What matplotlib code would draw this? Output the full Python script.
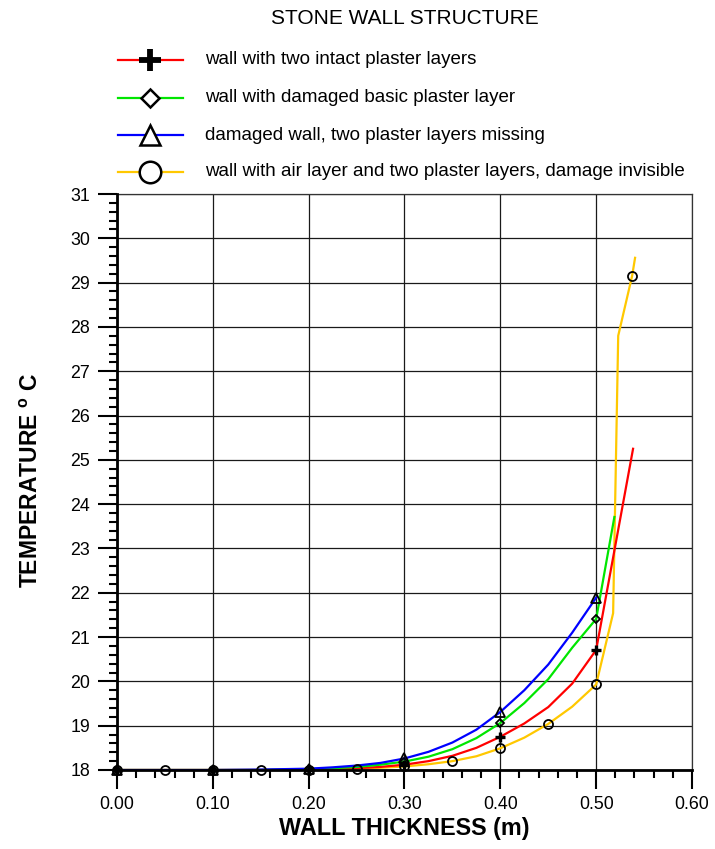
import numpy as np
import matplotlib
matplotlib.use("Agg")
import matplotlib.pyplot as plt
from matplotlib.lines import Line2D
from matplotlib.ticker import MultipleLocator, FormatStrFormatter

plt.rcParams['font.family'] = ['Liberation Sans', 'DejaVu Sans']
plt.rcParams['mathtext.fontset'] = 'custom'
plt.rcParams['mathtext.rm'] = 'Liberation Sans'
plt.rcParams['mathtext.bf'] = 'Liberation Sans:bold'

# ---------------- data ----------------
title = "STONE WALL STRUCTURE"
labels = ["wall with two intact plaster layers",
          "wall with damaged basic plaster layer",
          "damaged wall, two plaster layers missing",
          "wall with air layer and two plaster layers, damage invisible"]

x_red = [0, 0.05, 0.1, 0.15, 0.2, 0.225, 0.25, 0.275, 0.3, 0.325, 0.35, 0.375,
         0.4, 0.425, 0.45, 0.475, 0.5, 0.5385]
t_red = [18.0, 18.0, 18.0, 18.0, 18.01, 18.02, 18.04, 18.07, 18.12, 18.20, 18.32, 18.50,
         18.75, 19.05, 19.42, 19.95, 20.71, 25.25]

x_green = [0, 0.05, 0.1, 0.15, 0.2, 0.225, 0.25, 0.275, 0.3, 0.325, 0.35, 0.375,
           0.4, 0.425, 0.45, 0.475, 0.5, 0.519]
t_green = [18.0, 18.0, 18.0, 18.0, 18.02, 18.04, 18.07, 18.12, 18.19, 18.30, 18.47, 18.72,
           19.06, 19.51, 20.05, 20.76, 21.41, 23.71]

x_blue = [0, 0.05, 0.1, 0.15, 0.2, 0.225, 0.25, 0.275, 0.3, 0.325, 0.35, 0.375,
          0.4, 0.425, 0.45, 0.475, 0.5]
t_blue = [18.0, 18.0, 18.0, 18.01, 18.03, 18.06, 18.10, 18.16, 18.26, 18.41, 18.62, 18.91,
          19.31, 19.80, 20.38, 21.10, 21.89]

x_yellow = [0, 0.05, 0.1, 0.15, 0.2, 0.225, 0.25, 0.275, 0.3, 0.325, 0.35, 0.375, 0.4, 0.425,
            0.45, 0.475, 0.5, 0.5177, 0.523, 0.5375, 0.5406]
t_yellow = [18.0, 18.0, 18.0, 18.0, 18.01, 18.015, 18.03, 18.05, 18.08, 18.13, 18.20, 18.31,
            18.49, 18.73, 19.04, 19.43, 19.93, 21.54, 27.8, 29.15, 29.56]

mark_x_main = [0, 0.1, 0.2, 0.3, 0.4, 0.5]
mark_x_yellow = [0, 0.05, 0.1, 0.15, 0.2, 0.25, 0.3, 0.35, 0.4, 0.45, 0.5, 0.5375]

x_ticks = [0.0, 0.1, 0.2, 0.3, 0.4, 0.5, 0.6]
y_ticks = list(range(18, 32))

# ---------------- figure ----------------
W, H = 715, 849
fig = plt.figure(figsize=(W / 100, H / 100), dpi=100)
ax = fig.add_axes([117 / W, 1 - 770 / H, (692 - 117) / W, (770 - 194) / H])

colors = ['#ff0000', '#00e600', '#0000ff', '#ffc800']
markers = ['+', 'D', '^', 'o']
msizes = [7, 3.6, 6.5, 6.5]
mews = [2.4, 1.3, 1.3, 1.3]

series = [(x_red, t_red, mark_x_main), (x_green, t_green, mark_x_main),
          (x_blue, t_blue, mark_x_main), (x_yellow, t_yellow, mark_x_yellow)]

order = [3, 0, 1, 2]
for k in order:
    xs, ts, mx = series[k]
    ax.plot(xs, ts, color=colors[k], lw=1.6, zorder=3, solid_joinstyle='round')
for k in order:
    xs, ts, mx = series[k]
    idx = [i for i, v in enumerate(xs) if any(abs(v - m) < 1e-9 for m in mx)]
    ax.plot(np.array(xs)[idx], np.array(ts)[idx], ls='none', marker=markers[k],
            ms=msizes[k], mfc='none', mec='black', mew=mews[k], zorder=5, clip_on=False)

ax.set_xlim(0, 0.6)
ax.set_ylim(18, 31)
ax.set_xticks(x_ticks)
ax.set_yticks(y_ticks)
ax.xaxis.set_major_formatter(FormatStrFormatter('%.2f'))
ax.xaxis.set_minor_locator(MultipleLocator(0.02))
ax.yaxis.set_minor_locator(MultipleLocator(0.2))
ax.tick_params(axis='both', which='major', direction='out', length=13.5, width=1.5,
               labelsize=12.8, color='black')
ax.tick_params(axis='both', which='minor', direction='out', length=6, width=1.5,
               color='black')
ax.tick_params(axis='x', which='major', pad=5)
ax.tick_params(axis='y', which='major', pad=6)
ax.grid(True, which='major', color='#1a1a1a', lw=0.9)
ax.set_axisbelow(True)
for s in ['left', 'bottom']:
    ax.spines[s].set_linewidth(2)
    ax.spines[s].set_color('black')
    ax.spines[s].set_zorder(6)
for s in ['top', 'right']:
    ax.spines[s].set_linewidth(0.9)
    ax.spines[s].set_color('#333333')

ax.set_xlabel("WALL THICKNESS (m)", fontsize=16.8, fontweight='bold', labelpad=3)
fig.text(32 / W, 1 - 480 / H, r"TEMPERATURE $^{\mathbf{o}}$ C", rotation=90,
         fontsize=16.5, fontweight='bold', ha='center', va='center')

# title and legend
fig.text(405 / W, 1 - 18 / H, title, fontsize=15, ha='center', va='center')
leg_rows = [60, 98, 135, 172]
leg_ms = [16, 9, 14, 15.5]
leg_mew = [4.2, 1.8, 1.8, 1.8]
for k in range(4):
    yf = 1 - leg_rows[k] / H
    fig.add_artist(Line2D([118 / W, 183 / W], [yf, yf], color=colors[k], lw=1.6,
                          transform=fig.transFigure))
    fig.add_artist(Line2D([150 / W], [yf], marker=markers[k], ms=leg_ms[k], mfc='white',
                          mec='black', mew=leg_mew[k], ls='none', transform=fig.transFigure))
    fig.text(205 / W, yf, labels[k], fontsize=13.5, ha='left', va='center')

fig.savefig("out.png", dpi=100)
